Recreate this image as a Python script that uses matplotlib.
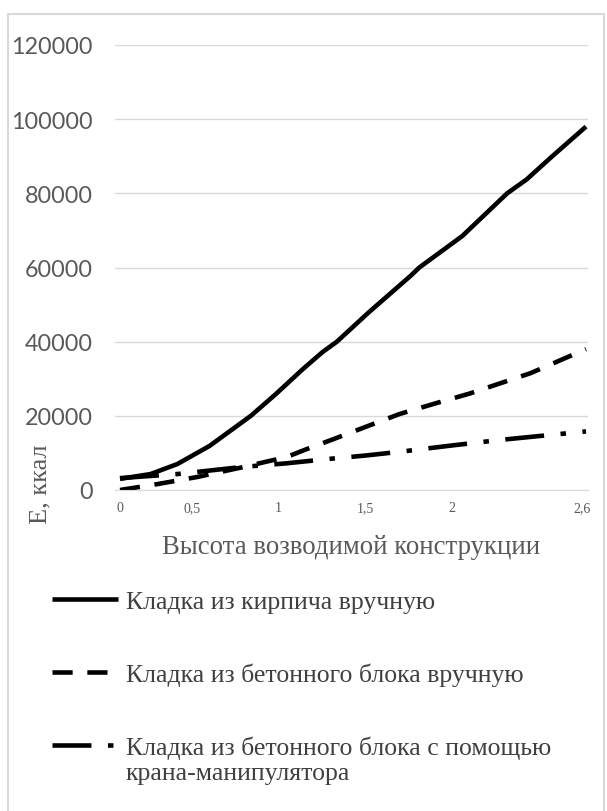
import matplotlib.pyplot as plt
from matplotlib.patches import Rectangle

# x ticks as they are printed under the axis
tick_pos = [0, 0.40, 0.88, 1.37, 1.85, 2.58]
tick_labels = ['0', '0,5', '1', '1,5', '2', '2,6']

# Кладка из кирпича вручную
brick_x = [0, 0.17, 0.32, 0.50, 0.73, 0.87, 1.02, 1.13, 1.21, 1.39, 1.62, 1.67, 1.91, 2.16, 2.27, 2.40, 2.60]
brick_y = [3000, 4300, 7000, 11900, 20000, 25900, 32600, 37200, 40000, 48000, 57700, 60000, 68500, 80000, 83800, 89500, 98000]

# Кладка из бетонного блока вручную
block_x = [0, 0.21, 0.43, 0.67, 0.93, 1.04, 1.19, 1.38, 1.56, 1.77, 1.95, 2.29, 2.60]
block_y = [0, 1600, 3500, 6000, 8900, 11000, 13700, 17200, 20500, 23500, 26000, 31500, 38000]

# Кладка из бетонного блока с помощью крана-манипулятора
crane_x = [0, 0.32, 0.68, 0.93, 1.17, 1.37, 1.56, 1.85, 2.12, 2.60]
crane_y = [3200, 4300, 6200, 7200, 8400, 9300, 10300, 12000, 13500, 15800]

labels = ['Кладка из кирпича вручную',
          'Кладка из бетонного блока вручную',
          'Кладка из бетонного блока с помощью']
label_tail = 'крана-манипулятора'

W, H = 607, 812
fig = plt.figure(figsize=(W / 100, H / 100), dpi=100)
fig.patches.append(Rectangle((8 / W, -0.01), (604 - 8) / W, 1 - 15 / H + 0.01,
                             transform=fig.transFigure, fill=False,
                             edgecolor='#d9d9d9', lw=1.5))

ax = fig.add_axes([115 / W, 1 - 491 / H, (588 - 115) / W, (491 - 46) / H])
grey = '#595959'
text_grey = '#404040'

l1, = ax.plot(brick_x, brick_y, color='black', lw=3.3, solid_capstyle='butt')
l2, = ax.plot(block_x, block_y, color='black', lw=3.3, dashes=(4.4, 3.2))
l3, = ax.plot(crane_x, crane_y, color='black', lw=3.3, dashes=(8.5, 3.6, 1.2, 3.6))

ax.set_xlim(-0.028, 2.611)
ax.set_ylim(0, 120000)
ax.set_yticks(range(0, 120001, 20000))
ax.set_xticks(tick_pos)
ax.set_xticklabels(tick_labels, fontfamily='Liberation Serif', fontsize=10, color=grey)
for t in ax.get_yticklabels():
    t.set_fontfamily('Lato')
    t.set_fontsize(16.8)
    t.set_color(grey)
ax.tick_params(length=0)
ax.tick_params(axis='x', pad=8)
ax.tick_params(axis='y', pad=16)
ax.grid(axis='y', color='#d9d9d9', lw=1)
ax.set_axisbelow(True)
for s in ['top', 'right', 'left']:
    ax.spines[s].set_visible(False)
ax.spines['bottom'].set_color('#d9d9d9')

ax.set_xlabel('Высота возводимой конструкции', fontfamily='Liberation Serif',
              fontsize=19.3, color=grey, labelpad=14)
ax.set_ylabel('Е, ккал', fontfamily='Liberation Serif', fontsize=19, color=grey)
ax.yaxis.set_label_coords(-0.135, 0.015)

fig.legend([l1, l2, l3], labels, loc='upper left', bbox_to_anchor=(52 / W, 1 - 591 / H),
           frameon=False, prop={'family': 'Liberation Serif', 'size': 18.5},
           labelcolor=text_grey, handlelength=2.57, handletextpad=0.3,
           labelspacing=1.93, borderpad=0, borderaxespad=0)
fig.text(126 / W, 1 - 774 / H, label_tail, family='Liberation Serif', size=18.5,
         color=text_grey, va='center')

fig.savefig('out.png', dpi=100)
